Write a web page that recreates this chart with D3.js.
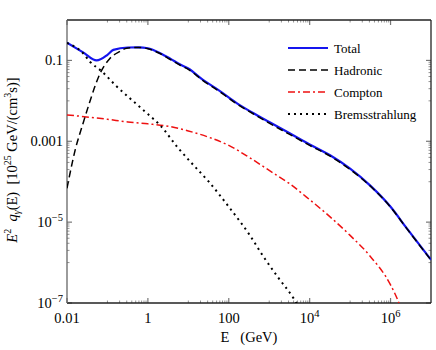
<!DOCTYPE html>
<html>
<head>
<meta charset="utf-8">
<script src="https://cdn.jsdelivr.net/npm/d3@7"></script>
<style>
  body { margin: 0; background: #fff; }
</style>
</head>
<body>
<div id="chart"></div>
<script>
// E in GeV, values in 10^25 GeV/(cm^3 s)
const totalData = [
  [0.01, 0.275], [0.025, 0.158], [0.054, 0.100], [0.1, 0.138], [0.14, 0.182],
  [0.32, 0.209], [0.58, 0.211], [1, 0.200], [2, 0.151], [3.5, 0.112],
  [6.3, 0.0794], [10, 0.063], [23, 0.033], [63, 0.017], [160, 0.0087],
  [400, 0.0050], [1e3, 0.0030], [3.2e3, 0.00158], [1e4, 8.3e-4], [3.2e4, 4.5e-4],
  [1e5, 2.1e-4], [3.2e5, 7.9e-5], [1e6, 2.4e-5], [2.5e6, 7.1e-6], [1e7, 1.17e-6]
];
const hadronicData = [
  [0.01, 6.9e-5], [0.016, 6.2e-4], [0.025, 2.8e-3], [0.037, 9.8e-3], [0.05, 0.024],
  [0.066, 0.048], [0.115, 0.112], [0.2, 0.166], [0.3, 0.200], [0.58, 0.209],
  [1, 0.195], [2, 0.148], [3.5, 0.107], [6.3, 0.076], [10, 0.060], [23, 0.0316],
  [63, 0.0162], [160, 0.0083], [400, 0.0048], [1e3, 0.0028], [3.2e3, 0.00148],
  [1e4, 7.9e-4], [3.2e4, 4.3e-4], [1e5, 2.0e-4], [3.2e5, 7.7e-5], [1e6, 2.35e-5],
  [2.5e6, 7.0e-6], [1e7, 1.15e-6]
];
const comptonData = [
  [0.01, 4.5e-3], [0.1, 3.5e-3], [0.32, 3.0e-3], [1, 2.7e-3], [3.2, 2.35e-3],
  [10, 1.8e-3], [32, 1.26e-3], [100, 7.9e-4], [320, 4.0e-4], [1e3, 1.9e-4],
  [3.2e3, 8.9e-5], [1e4, 3.6e-5], [3.2e4, 1.35e-5], [1e5, 4.7e-6], [3.2e5, 1.4e-6],
  [1e6, 2.8e-7], [1.6e6, 1.0e-7], [2e6, 5e-8]
];
const bremsData = [
  [0.01, 0.27], [0.025, 0.151], [0.037, 0.093], [0.072, 0.054], [0.16, 0.024],
  [0.4, 0.0105], [1, 0.0047], [2, 0.0025], [5.6, 6.8e-4], [12, 2.9e-4],
  [32, 1.0e-4], [107, 2.2e-5], [320, 5.0e-6], [720, 1.4e-6], [1600, 4.5e-7],
  [4000, 1.3e-7], [5000, 9e-8]
];
const seriesNames = ["Total", "Hadronic", "Compton", "Bremsstrahlung"];
const xTickValues = [0.01, 1, 100, 1e4, 1e6];
const xTickLabels = [["0.01"], ["1"], ["100"], ["10", "4"], ["10", "6"]];
const yTickValues = [0.1, 0.001, 1e-5, 1e-7];
const yTickLabels = [["0.1"], ["0.001"], ["10", "\u22125"], ["10", "\u22127"]];

const W = 436, H = 350;
const margin = {top: 20, right: 5, bottom: 47, left: 67};
const width = W - margin.left - margin.right;
const height = H - margin.top - margin.bottom;
const serif = "'Liberation Serif', 'DejaVu Serif', serif";

const svg = d3.select("#chart").append("svg")
  .attr("width", W).attr("height", H)
  .attr("font-family", serif)
  .style("font-family", serif);

const x = d3.scaleLog().domain([0.01, 1e7]).range([0, width]);
const y = d3.scaleLog().domain([1e-7, 1]).range([height, 0]);

const g = svg.append("g")
  .attr("transform", "translate(" + margin.left + "," + margin.top + ")");

svg.append("defs").append("clipPath").attr("id", "plotclip")
  .append("rect").attr("width", width).attr("height", height);

// minor ticks: j * major / 10, j = 1..9
function minors(majors) {
  const out = [];
  majors.forEach(m => { for (let j = 1; j <= 9; j++) out.push(m * j / 10); });
  return out;
}
const xMinor = minors(xTickValues).filter(v => v > 0.01);
const yMinor = minors(yTickValues).filter(v => v > 1e-7);

const tickColor = "#777";
const ticks = g.append("g").attr("class", "ticks");
// x ticks, bottom & top
xTickValues.forEach(v => {
  ticks.append("line").attr("x1", x(v)).attr("x2", x(v)).attr("y1", height).attr("y2", height - 5)
    .attr("stroke", tickColor).attr("stroke-width", 1.2);
  ticks.append("line").attr("x1", x(v)).attr("x2", x(v)).attr("y1", 0).attr("y2", 5)
    .attr("stroke", tickColor).attr("stroke-width", 1.2);
});
xMinor.forEach(v => {
  ticks.append("line").attr("x1", x(v)).attr("x2", x(v)).attr("y1", height).attr("y2", height - 2.5)
    .attr("stroke", tickColor).attr("stroke-width", 0.8);
  ticks.append("line").attr("x1", x(v)).attr("x2", x(v)).attr("y1", 0).attr("y2", 2.5)
    .attr("stroke", tickColor).attr("stroke-width", 0.8);
});
// y ticks, left & right
yTickValues.forEach(v => {
  ticks.append("line").attr("y1", y(v)).attr("y2", y(v)).attr("x1", 0).attr("x2", 5)
    .attr("stroke", tickColor).attr("stroke-width", 1.2);
  ticks.append("line").attr("y1", y(v)).attr("y2", y(v)).attr("x1", width).attr("x2", width - 5)
    .attr("stroke", tickColor).attr("stroke-width", 1.2);
});
yMinor.forEach(v => {
  ticks.append("line").attr("y1", y(v)).attr("y2", y(v)).attr("x1", 0).attr("x2", 2.5)
    .attr("stroke", tickColor).attr("stroke-width", 0.8);
  ticks.append("line").attr("y1", y(v)).attr("y2", y(v)).attr("x1", width).attr("x2", width - 2.5)
    .attr("stroke", tickColor).attr("stroke-width", 0.8);
});

// frame
g.append("line").attr("x1", 0).attr("x2", width).attr("y1", height).attr("y2", height)
  .attr("stroke", "#222").attr("stroke-width", 1.3);
g.append("line").attr("x1", 0).attr("x2", width).attr("y1", 0).attr("y2", 0)
  .attr("stroke", "#222").attr("stroke-width", 1.3);
g.append("line").attr("x1", 0).attr("x2", 0).attr("y1", 0).attr("y2", height)
  .attr("stroke", "#666").attr("stroke-width", 1.3);
g.append("line").attr("x1", width).attr("x2", width).attr("y1", 0).attr("y2", height)
  .attr("stroke", "#222").attr("stroke-width", 1.3);

// tick labels
xTickValues.forEach((v, i) => {
  const t = g.append("text").attr("x", x(v)).attr("y", height + 20)
    .attr("text-anchor", "middle").attr("font-size", 14.5);
  t.append("tspan").text(xTickLabels[i][0]);
  if (xTickLabels[i][1]) t.append("tspan").attr("dy", -6).attr("font-size", 10.5).text(xTickLabels[i][1]);
});
yTickValues.forEach((v, i) => {
  const t = g.append("text").attr("x", -4).attr("y", y(v) + 5)
    .attr("text-anchor", "end").attr("font-size", 14.5);
  t.append("tspan").text(yTickLabels[i][0]);
  if (yTickLabels[i][1]) t.append("tspan").attr("dy", -6).attr("font-size", 10.5).text(yTickLabels[i][1]);
});

// axis titles
const xl = svg.append("text").attr("x", margin.left + width / 2).attr("y", H - 8)
  .attr("text-anchor", "middle").attr("font-size", 14.5).attr("xml:space", "preserve");
xl.text("E   (GeV)");

const yl = svg.append("text").attr("transform", "translate(17," + (margin.top + 140) + ") rotate(-90)")
  .attr("text-anchor", "middle").attr("font-size", 14.5).attr("xml:space", "preserve");
yl.append("tspan").attr("font-style", "italic").text("E");
yl.append("tspan").attr("dy", -6).attr("font-size", 10).text("2");
yl.append("tspan").attr("dy", 6).text(" ");
yl.append("tspan").attr("font-style", "italic").text(" q");
yl.append("tspan").attr("dy", 3).attr("font-size", 10).attr("font-style", "italic").text("\u03b3");
yl.append("tspan").attr("dy", -3).text("(E)  [10");
yl.append("tspan").attr("dy", -6).attr("font-size", 10).text("25");
yl.append("tspan").attr("dy", 6).text(" GeV/(cm");
yl.append("tspan").attr("dy", -6).attr("font-size", 10).text("3");
yl.append("tspan").attr("dy", 6).text("s)]");

// curves
const line = d3.line()
  .x(d => x(d[0])).y(d => y(d[1]))
  .curve(d3.curveMonotoneX);

const styles = [
  {data: totalData, color: "#1515ee", width: 2.2, dash: null},
  {data: hadronicData, color: "#000", width: 1.5, dash: "7,4"},
  {data: comptonData, color: "#ee1111", width: 1.5, dash: "7,3,2,3"},
  {data: bremsData, color: "#000", width: 2, dash: "2,4"}
];
const plot = g.append("g").attr("clip-path", "url(#plotclip)");
// total first, hadronic dashes sit on top of it
[0, 2, 3, 1].forEach(i => {
  const s = styles[i];
  plot.append("path").datum(s.data)
    .attr("d", line)
    .attr("fill", "none")
    .attr("stroke", s.color)
    .attr("stroke-width", s.width)
    .attr("stroke-dasharray", s.dash);
});

// legend
const legend = svg.append("g").attr("transform", "translate(288,48)");
seriesNames.forEach((name, i) => {
  const s = styles[i];
  const row = legend.append("g").attr("transform", "translate(0," + (i * 22) + ")");
  row.append("line").attr("x1", 0).attr("x2", 40).attr("y1", 0).attr("y2", 0)
    .attr("stroke", s.color).attr("stroke-width", s.width)
    .attr("stroke-dasharray", s.dash);
  row.append("text").attr("x", 46).attr("y", 4.5).attr("font-size", 13).text(name);
});
</script>
</body>
</html>
